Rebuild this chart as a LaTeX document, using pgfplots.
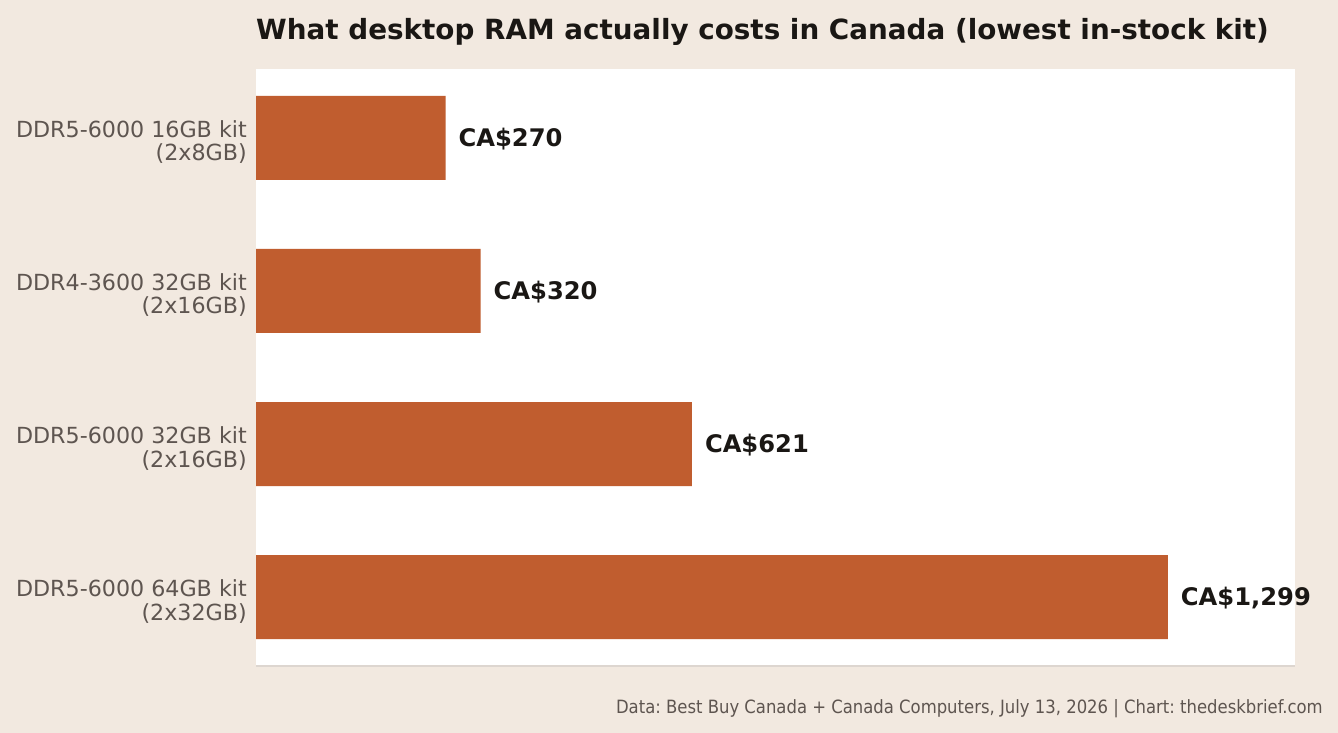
\documentclass[border=0pt]{standalone}
\usepackage{pgfplots}
\pgfplotsset{compat=1.18}
\usepackage{fontspec}
\setmainfont{DejaVu Sans}
\newfontfamily\condfont{DejaVu Sans Condensed}
\frenchspacing
\definecolor{bgbeige}{HTML}{F2E9E0}
\definecolor{barorange}{HTML}{C05D2F}
\definecolor{labelgray}{HTML}{5E5550}
\definecolor{titleblack}{HTML}{1A1714}
\definecolor{baseline}{HTML}{DDD6D0}

\pgfplotstableread{
idx price label
0 270 {CA\$270}
1 320 {CA\$320}
2 621 {CA\$621}
3 1299 {CA\$1,299}
}\ramprices

\begin{document}
\begin{tikzpicture}[x=1pt,y=1pt]
\fill[bgbeige] (0,0) rectangle (1338,-733);
\begin{axis}[
  at={(256pt,-666pt)}, anchor=south west,
  scale only axis, width=1039pt, height=597pt,
  xbar, bar width=84pt, bar shift=0pt,
  xmin=0, xmax=1480,
  ymin=-0.45, ymax=3.45, y dir=reverse,
  axis background/.style={fill=white},
  axis line style={draw=none},
  axis x line*=bottom, axis y line=none,
  x axis line style={draw=baseline, line width=1.5pt},
  xtick=\empty,
  ytick={0,1,2,3},
  clip=false,
  nodes near coords={\pgfplotspointmeta},
  point meta=explicit symbolic,
  nodes near coords style={anchor=west, xshift=9.5pt, yshift=-1pt, font=\bfseries\fontsize{24.2}{27}\selectfont, text=titleblack},
]
\addplot[fill=barorange, draw=none] table[x=price, y=idx, meta=label] {\ramprices};
\end{axis}
% category labels
\foreach \yy/\la/\lb in {138/DDR5-6000 16GB kit/(2x8GB), 291/DDR4-3600 32GB kit/(2x16GB), 444.5/DDR5-6000 32GB kit/(2x16GB), 597.5/DDR5-6000 64GB kit/(2x32GB)}{
  \node[anchor=east, align=right, text=labelgray, font=\fontsize{22.2}{23.5}\selectfont, inner sep=0pt] at (247,-\yy-4) {\la\\\lb};
}
\node[anchor=west, text=titleblack, font=\bfseries\fontsize{27.8}{32}\selectfont, inner sep=0pt] at (256,-32) {What desktop RAM actually costs in Canada (lowest in-stock kit)};
\node[anchor=east, text=labelgray, font=\condfont\fontsize{18.3}{21}\selectfont, inner sep=0pt] at (1323,-709) {\frenchspacing Data: Best Buy Canada + Canada Computers, July 13, 2026 | Chart: thedeskbrief.com};
\pgfresetboundingbox
\path[use as bounding box] (0,0) rectangle (1338,-733);
\end{tikzpicture}
\end{document}
